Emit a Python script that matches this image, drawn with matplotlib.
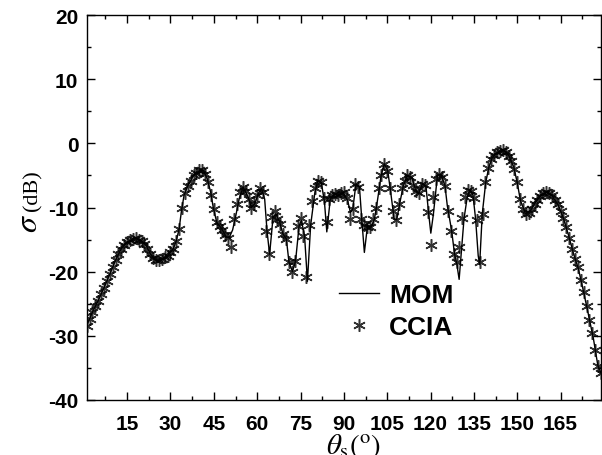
import numpy as np
import matplotlib
matplotlib.use("Agg")
import matplotlib.pyplot as plt
from matplotlib.ticker import MultipleLocator

plt.rcParams['axes.unicode_minus'] = False
plt.rcParams['mathtext.fontset'] = 'stix'

# MOM reference curve (theta in degrees, sigma in dB)
theta_mom = [1, 3, 5, 7, 9, 11, 13, 15, 17, 18,
             20, 21.5, 23, 24.5, 25.5, 27, 29, 31, 32, 33,
             33.8, 34.7, 36, 38, 40.5, 41.5, 42.7, 43.9, 44.8, 46,
             47.7, 49.3, 50.3, 51.5, 52.5, 53.8, 55.1, 56.9, 58, 59.2,
             60.3, 61.5, 62.6, 63.4, 64.3, 65.5, 66.5, 67.8, 68.9, 70.1,
             71, 72.2, 73.3, 74.5, 75.3, 76.4, 77.4, 78.5, 79.9, 81,
             82.2, 83.3, 84.1, 85.3, 86.8, 87.9, 89.6, 91.3, 92.3, 93.1,
             94.2, 95.4, 96.2, 97.1, 98.2, 99.4, 100.6, 101.7, 102.9, 104,
             105.2, 106.3, 107.4, 108.3, 109.4, 110.6, 112, 113.5, 114.7, 115.8,
             117.2, 118.4, 119.3, 120.1, 121, 121.6, 122.4, 123.6, 125, 125.8,
             127.3, 128.3, 129.1, 129.9, 130.8, 131.6, 132.7, 133.7, 134.7, 135.6,
             136.5, 137.0, 137.9, 139.1, 140.2, 141.3, 143.1, 145.4, 147.1, 148.8,
             150, 151.1, 152.9, 154.6, 156.3, 158.6, 160.3, 162, 164.3, 166.1,
             167.8, 169.5, 171.2, 173, 174.7, 176.4, 177.9, 179]
sigma_mom = [-28.4, -26.3, -24.5, -22.5, -20.4, -18.2, -16.4, -15.4, -14.9, -14.8,
             -15.2, -15.9, -17.2, -18.1, -18.3, -18.0, -17.5, -16.4, -15.2, -13.3,
             -10.5, -8.1, -6.6, -5.0, -4.1, -4.3, -5.5, -7.6, -10.0, -12.3,
             -13.3, -14.6, -14.7, -13.5, -11.5, -8.6, -6.8, -8.4, -10.0, -9.4,
             -7.9, -7.0, -8.7, -13.6, -17.3, -11.5, -11.0, -12.3, -14.1, -14.9,
             -18.5, -20.0, -18.3, -12.9, -12.0, -14.4, -21.5, -12.8, -7.9, -5.8,
             -6.1, -9.2, -13.8, -8.7, -7.9, -8.1, -7.6, -8.9, -10.8, -10.2,
             -6.3, -6.8, -11.8, -17.0, -12.8, -13.1, -11.8, -8.7, -5.0, -3.2,
             -4.3, -7.9, -11.8, -11.9, -9.2, -6.6, -5.0, -5.3, -7.1, -7.9,
             -6.3, -6.6, -10.7, -14.0, -11.0, -8.4, -5.0, -4.8, -6.6, -9.7,
             -13.6, -17.2, -18.8, -21.2, -16.2, -11.7, -8.4, -7.2, -8.1, -11.8,
             -17.5, -18.9, -11.0, -6.1, -3.7, -2.3, -1.4, -1.1, -1.9, -3.7,
             -6.1, -8.9, -11.0, -10.5, -9.2, -7.9, -7.6, -8.1, -9.7, -11.8,
             -14.4, -17.2, -19.6, -23.2, -26.8, -30.5, -34.6, -35.8]

# CCIA samples, one per degree from 1 to 179
theta_ccia = list(range(1, 180))
sigma_ccia = [-28.4, -27.3, -26.3, -25.4, -24.5, -23.5, -22.5, -21.4, -20.4, -19.3,
              -18.2, -17.3, -16.4, -15.9, -15.4, -15.1, -14.9, -14.8, -15.0, -15.2,
              -15.7, -16.4, -17.2, -17.8, -18.2, -18.2, -18.0, -17.7, -17.5, -16.9,
              -16.4, -15.2, -13.3, -10.0, -7.8, -6.6, -5.8, -5.0, -4.6, -4.2,
              -4.2, -4.8, -6.0, -8.0, -10.3, -12.3, -12.9, -13.5, -14.3, -14.7,
              -16.2, -11.8, -9.5, -7.6, -6.8, -7.5, -8.6, -10.0, -9.4, -8.0,
              -7.0, -7.6, -13.6, -17.2, -11.5, -10.5, -11.8, -12.5, -14.1, -14.9,
              -18.5, -20.1, -18.3, -12.9, -11.7, -14.4, -20.8, -12.8, -9.0, -7.0,
              -5.8, -6.1, -8.5, -12.3, -8.7, -8.0, -7.9, -8.1, -7.8, -7.6,
              -8.5, -11.8, -10.2, -6.3, -6.8, -11.8, -12.8, -13.0, -13.1, -11.8,
              -10.0, -7.0, -5.0, -3.2, -4.3, -7.0, -10.5, -12.0, -9.5, -7.0,
              -5.8, -5.0, -5.2, -6.5, -7.5, -7.8, -6.3, -6.5, -10.7, -15.8,
              -8.4, -5.5, -4.8, -5.2, -6.6, -10.5, -13.6, -17.2, -18.5, -16.2,
              -11.7, -8.4, -7.2, -7.5, -8.5, -12.0, -18.5, -11.0, -6.1, -3.9,
              -2.5, -1.8, -1.4, -1.2, -1.1, -1.3, -1.9, -2.7, -4.0, -6.1,
              -8.6, -10.3, -11.0, -10.8, -10.2, -9.4, -8.8, -8.2, -7.8, -7.6,
              -7.7, -8.1, -8.8, -9.5, -10.5, -11.7, -13.0, -14.8, -16.5, -18.0,
              -19.3, -21.3, -23.2, -25.3, -27.5, -29.6, -32.2, -34.7, -35.8]

x_ticks = [15, 30, 45, 60, 75, 90, 105, 120, 135, 150, 165]
y_ticks = [-40, -30, -20, -10, 0, 10, 20]

W, H = 602, 456
fig = plt.figure(figsize=(W / 100, H / 100), dpi=100)
ax = fig.add_axes([86.7 / W, 1 - 401 / H, (601 - 86.7) / W, (401 - 16) / H])

ax.plot(theta_mom, sigma_mom, color='black', lw=1.0, label='MOM', zorder=2)
ax.plot(theta_ccia, sigma_ccia, ls='none', marker=(6, 2, 0), ms=9, mew=1.1,
        color='black', alpha=0.8, label='CCIA', zorder=3)

ax.set_xlim(1, 179)
ax.set_ylim(-40, 20)
ax.set_xticks(x_ticks)
ax.set_yticks(y_ticks)
ax.xaxis.set_minor_locator(MultipleLocator(7.5))
ax.yaxis.set_minor_locator(MultipleLocator(5))
ax.tick_params(which='both', direction='in', top=True, right=True, width=1.0)
ax.tick_params(which='major', length=6)
ax.tick_params(which='minor', length=3)
ax.tick_params(axis='x', which='major', pad=10)
ax.tick_params(axis='y', which='major', pad=6)
for lab in ax.get_xticklabels() + ax.get_yticklabels():
    lab.set_fontfamily('Liberation Sans')
    lab.set_fontweight('bold')
    lab.set_fontsize(15)
for s in ax.spines.values():
    s.set_linewidth(1.0)

# y label: sigma(dB)
fig.text(37 / W, 1 - 233 / H, r'$\sigma$', rotation=90, rotation_mode='anchor',
         ha='left', va='baseline', fontsize=23)
fig.text(37 / W, 1 - 211 / H, '(dB)', rotation=90, rotation_mode='anchor',
         ha='left', va='baseline', fontsize=16, family='Liberation Serif')

# x label
fig.text(326 / W, 1 - 454 / H, r'$\theta_{\mathrm{s}}(^{\mathrm{o}})$', ha='left',
         va='baseline', fontsize=21)

leg = ax.legend(loc='center left', bbox_to_anchor=(339 / W, 1 - 312 / H),
                bbox_transform=fig.transFigure, frameon=False, borderpad=0,
                borderaxespad=0, handlelength=1.5, handletextpad=0.4,
                labelspacing=0.3, prop={'family': 'Liberation Sans', 'weight': 'bold', 'size': 19})

fig.savefig('out.png', dpi=100)
